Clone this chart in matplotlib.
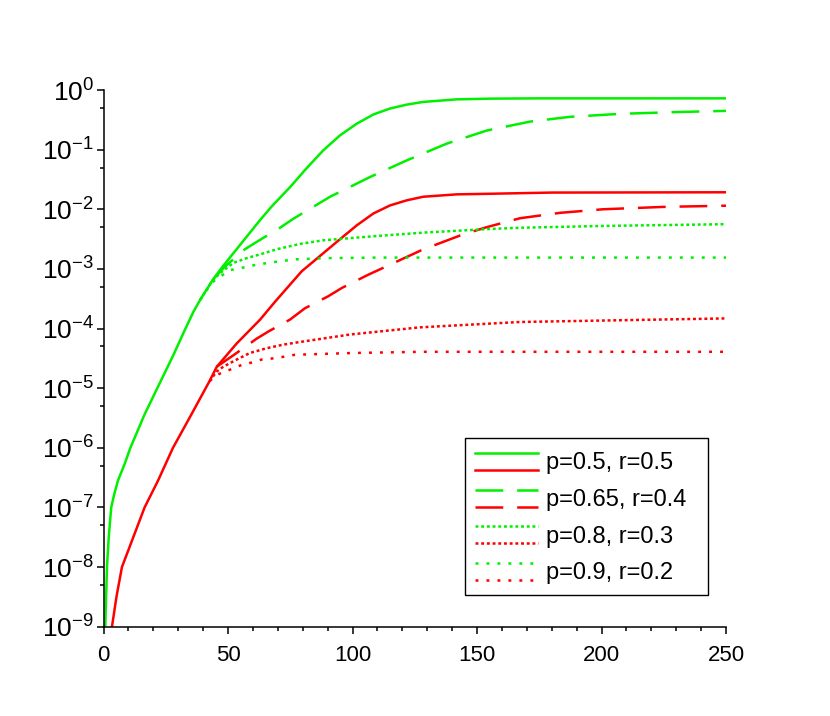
import numpy as np
import matplotlib
matplotlib.use('Agg')
import matplotlib.pyplot as plt
from matplotlib.ticker import FixedLocator, FixedFormatter, MultipleLocator
from matplotlib.legend_handler import HandlerBase
from matplotlib.lines import Line2D

# values, stored as log10(y)
x_g50 = [0.4, 0.7, 1.4, 2.1, 3.1, 4.3, 5.8, 8.5, 10.8, 16.5, 23, 28, 32.7, 36.1, 38.8,
         44.1, 47.5, 52.1, 57.5, 62.9, 67.6, 74.9, 81.6, 88.3, 95.0, 101.7, 108.4,
         115.1, 121.8, 128.4, 141.8, 155.2, 175, 200, 225, 250]
e_g50 = [-9.5, -9.0, -8.0, -7.5, -7.0, -6.78, -6.55, -6.27, -6.0, -5.44, -4.88, -4.45,
         -4.02, -3.72, -3.52, -3.17, -2.98, -2.74, -2.46, -2.18, -1.95, -1.63, -1.31,
         -1.01, -0.76, -0.565, -0.41, -0.31, -0.245, -0.20, -0.157, -0.145, -0.14,
         -0.14, -0.14, -0.14]

x_g65 = [44.1, 48.8, 56.8, 61.8, 70.9, 76.2, 91.0, 107.0, 121.8, 137.8, 153.9, 171.3,
         187.3, 207.4, 230, 250]
e_g65 = [-3.17, -2.96, -2.67, -2.54, -2.31, -2.16, -1.79, -1.46, -1.18, -0.90, -0.68,
         -0.53, -0.45, -0.40, -0.37, -0.35]

x_g80 = [38.8, 43.5, 46.8, 52.1, 57.5, 64.2, 69.6, 79, 88.3, 109.2, 129.1, 155.2,
         167.3, 199.7, 250]
e_g80 = [-3.52, -3.21, -3.07, -2.90, -2.82, -2.74, -2.67, -2.58, -2.52, -2.45, -2.39,
         -2.33, -2.31, -2.28, -2.25]

x_g90 = [38.8, 43.5, 46.8, 50.8, 54.8, 58.8, 62.9, 67.6, 76.9, 89, 110, 150, 250]
e_g90 = [-3.52, -3.23, -3.13, -3.02, -2.99, -2.95, -2.92, -2.89, -2.84, -2.82, -2.81,
         -2.81, -2.81]

x_r50 = [3.1, 3.4, 5.2, 7.4, 10.5, 16.5, 21.9, 27.9, 35.3, 42.6, 45.5, 53.5, 62.9, 68.9,
         79.6, 93.6, 101.7, 108.4, 115.1, 121.8, 128.4, 141.8, 155.2, 180, 250]
e_r50 = [-9.4, -9.0, -8.5, -8.0, -7.66, -7.0, -6.55, -6.0, -5.44, -4.88, -4.64, -4.25,
         -3.85, -3.55, -3.04, -2.55, -2.27, -2.07, -1.935, -1.85, -1.79, -1.75, -1.74,
         -1.72, -1.715]

x_r65 = [45.5, 52.1, 61.5, 66.2, 74.9, 80.9, 90.2, 95.7, 106.2, 128, 143.2, 153.9,
         167.3, 183.3, 200.6, 225, 250]
e_r65 = [-4.64, -4.45, -4.17, -4.05, -3.85, -3.66, -3.46, -3.32, -3.10, -2.68, -2.44,
         -2.30, -2.15, -2.06, -2.0, -1.96, -1.94]

x_r80 = [42.6, 45.5, 48.1, 53.5, 58.8, 65.5, 72.2, 78.2, 99, 127.1, 167.3, 250]
e_r80 = [-4.88, -4.72, -4.64, -4.52, -4.41, -4.33, -4.27, -4.23, -4.10, -3.98, -3.89,
         -3.83]

x_r90 = [42.6, 46.5, 50.8, 55.5, 59.5, 63.5, 68.2, 72.9, 76.9, 100, 128, 250]
e_r90 = [-4.88, -4.76, -4.69, -4.61, -4.57, -4.52, -4.50, -4.47, -4.44, -4.41, -4.39,
         -4.39]

labels = ['p=0.5, r=0.5', 'p=0.65, r=0.4', 'p=0.8, r=0.3', 'p=0.9, r=0.2']
xtick_vals = [0, 50, 100, 150, 200, 250]
ytick_exps = [-9, -8, -7, -6, -5, -4, -3, -2, -1, 0]
ytick_labels = [r'$10^{%d}$' % e for e in ytick_exps]

GREEN = '#00f000'
RED = '#ff0000'


class PairHandler(HandlerBase):
    # one legend row holds a green line above a red line
    def create_artists(self, legend, orig_handle, xdescent, ydescent,
                       width, height, fontsize, trans):
        out = []
        for frac, h in zip((0.8, 0.2), orig_handle):
            yy = height * frac - ydescent
            ln = Line2D([-xdescent, width - xdescent], [yy, yy])
            ln.update_from(h)
            ln.set_transform(trans)
            out.append(ln)
        return out


def main():
    plt.rcParams.update({
        'font.family': ['Liberation Sans', 'DejaVu Sans'],
        'mathtext.fontset': 'custom',
        'mathtext.rm': 'Liberation Sans',
        'mathtext.it': 'Liberation Sans:italic',
        'mathtext.bf': 'Liberation Sans:bold',
        'lines.scale_dashes': False,
    })

    fig = plt.figure(figsize=(8.3, 7.16), dpi=100)
    ax = fig.add_axes([0.1247, 0.1247, 0.7500, 0.7496])

    lw = 1.8
    solid = dict(linestyle='-')
    dash = dict(dashes=(20, 10))
    dot = dict(dashes=(2.1, 2.0))
    sparse = dict(dashes=(2.1, 5.8))

    def p(xs, es, color, style):
        ln, = ax.plot(xs, np.power(10.0, es), color=color, lw=lw, **style)
        return ln

    g1 = p(x_g50, e_g50, GREEN, solid)
    r1 = p(x_r50, e_r50, RED, solid)
    g2 = p(x_g65, e_g65, GREEN, dash)
    r2 = p(x_r65, e_r65, RED, dash)
    g3 = p(x_g80, e_g80, GREEN, dot)
    r3 = p(x_r80, e_r80, RED, dot)
    g4 = p(x_g90, e_g90, GREEN, sparse)
    r4 = p(x_r90, e_r90, RED, sparse)

    ax.set_yscale('log')
    ax.set_xlim(0, 250)
    ax.set_ylim(1e-9, 1)

    ax.xaxis.set_major_locator(FixedLocator(xtick_vals))
    ax.xaxis.set_minor_locator(MultipleLocator(10))
    ax.yaxis.set_major_locator(FixedLocator([10.0 ** e for e in ytick_exps]))
    ax.yaxis.set_major_formatter(FixedFormatter(ytick_labels))
    ax.yaxis.set_minor_locator(FixedLocator([5 * 10.0 ** e for e in ytick_exps[:-1]]))

    for s in ('top', 'right'):
        ax.spines[s].set_visible(False)
    for s in ('left', 'bottom'):
        ax.spines[s].set_linewidth(1.1)

    ax.tick_params(which='major', direction='out', length=5, width=1.1)
    ax.tick_params(which='minor', direction='out', length=3, width=1.1)
    ax.tick_params(axis='x', which='major', pad=8, labelsize=16)
    ax.tick_params(axis='y', which='major', pad=2, labelsize=19)

    leg = ax.legend(handles=[(g1, r1), (g2, r2), (g3, r3), (g4, r4)], labels=labels,
                    handler_map={tuple: PairHandler()},
                    loc='upper left', bbox_to_anchor=(0.581, 0.054, 0.39, 0.298),
                    mode='expand', borderaxespad=0, fontsize=17,
                    handlelength=2.67, handleheight=1.5, labelspacing=0.33,
                    handletextpad=0.35, borderpad=0.4,
                    fancybox=False, framealpha=1, edgecolor='black')
    leg.get_frame().set_linewidth(1.0)

    fig.savefig('out.png', dpi=100)


if __name__ == '__main__':
    main()
